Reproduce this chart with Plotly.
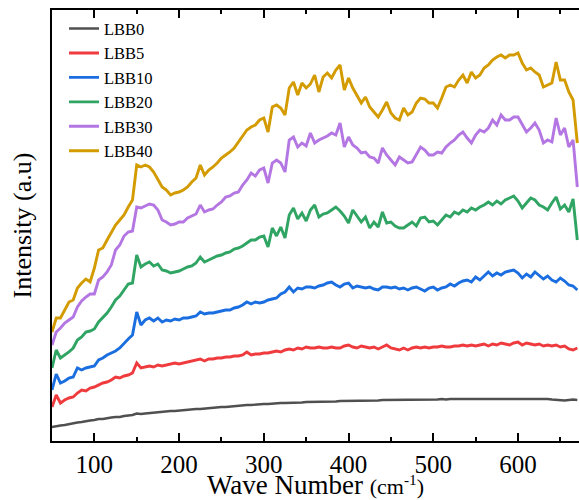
import plotly.graph_objects as go

wave_number = [
    50, 55, 60, 65, 70, 75, 80, 85, 90, 95,
    100, 105, 110, 115, 120, 125, 130, 135, 140, 145,
    150, 155, 160, 165, 170, 175, 180, 185, 190, 195,
    200, 205, 210, 215, 220, 225, 230, 235, 240, 245,
    250, 255, 260, 265, 270, 275, 280, 285, 290, 295,
    300, 305, 310, 315, 320, 325, 330, 335, 340, 345,
    350, 355, 360, 365, 370, 375, 380, 385, 390, 395,
    400, 405, 410, 415, 420, 425, 430, 435, 440, 445,
    450, 455, 460, 465, 470, 475, 480, 485, 490, 495,
    500, 505, 510, 515, 520, 525, 530, 535, 540, 545,
    550, 555, 560, 565, 570, 575, 580, 585, 590, 595,
    600, 605, 610, 615, 620, 625, 630, 635, 640, 645,
    650, 655, 660, 665, 670,
]

lbb0 = [
    14, 15, 15.5, 16, 17, 17.5, 18.5, 19, 20, 20.5,
    21, 22, 22, 23, 23.5, 24, 24, 25, 25.5, 26,
    27.5, 27, 27.5, 28, 28.5, 29, 29, 29.5, 30, 30,
    30.5, 31, 31, 31.5, 32, 32, 32.5, 33, 33, 33.5,
    34, 34, 34.5, 35, 35, 35.5, 36, 36, 36.5, 36.5,
    37, 37, 37.5, 37.5, 38, 38, 38, 38.5, 38.5, 38.5,
    39, 39, 39, 39, 39.5, 39.5, 39.5, 39.5, 40, 40,
    40, 40, 40.5, 40, 40.5, 40.5, 40.5, 40.5, 41, 41,
    41, 41, 41, 41, 41.5, 41, 41.5, 41.5, 41.5, 41.5,
    41.5, 41.5, 42, 41.5, 42, 42, 42, 42, 42, 42,
    42, 42.5, 42, 42.5, 42.5, 42, 42.5, 42.5, 42.5, 42.5,
    42.5, 42, 42.5, 42, 42, 42.5, 42, 42, 41.5, 41,
    40.5, 40.5, 41, 41.5, 41,
]

lbb5 = [
    34, 46, 38, 41, 43, 44, 48, 51, 50, 53,
    54, 56, 58, 59, 61, 64, 63, 65, 66, 68,
    78, 73, 74, 75, 74, 76, 75, 76, 77, 78,
    77, 78, 79, 80, 81, 82, 80, 82, 82, 83,
    83, 84, 84, 85, 85, 86, 89, 86, 87, 87,
    88, 88, 89, 90, 89, 91, 92, 91, 93, 92,
    94, 93, 93, 94, 93, 93, 94, 93, 93, 95,
    96, 94, 93, 95, 94, 93, 94, 92, 94, 96,
    93, 92, 91, 93, 91, 93, 94, 93, 94, 93,
    94, 94, 95, 94, 94, 95, 95, 96, 95, 96,
    95, 96, 97, 95, 97, 96, 98, 97, 96, 98,
    99, 96, 98, 97, 96, 97, 95, 96, 95, 96,
    94, 95, 92, 91, 93,
]

lbb10 = [
    51, 67, 58, 60, 63, 64, 73, 71, 73, 74,
    75, 81, 83, 86, 88, 90, 93, 98, 102, 106,
    129, 116, 121, 123, 120, 123, 119, 121, 120, 122,
    121, 123, 123, 124, 125, 129, 127, 128, 128, 129,
    130, 131, 131, 133, 134, 136, 139, 137, 139, 138,
    139, 141, 142, 143, 147, 149, 154, 149, 153, 152,
    154, 154, 153, 155, 156, 158, 159, 156, 154, 157,
    158, 153, 155, 154, 153, 154, 152, 151, 154, 154,
    153, 154, 152, 153, 151, 153, 154, 152, 150, 153,
    154, 151, 153, 154, 157, 155, 158, 160, 161, 159,
    164, 161, 165, 169, 165, 168, 166, 169, 170, 171,
    168, 163, 167, 164, 169, 165, 162, 165, 161, 159,
    163, 160, 156, 155, 151,
]

lbb20 = [
    73, 91, 83, 86, 89, 93, 101, 104, 109, 110,
    112, 119, 123, 128, 134, 141, 145, 151, 157, 158,
    186, 174, 177, 179, 175, 177, 171, 170, 168, 169,
    170, 172, 174, 175, 178, 184, 179, 181, 183, 185,
    186, 188, 189, 192, 193, 195, 198, 201, 201, 204,
    205, 194, 213, 205, 214, 203, 226, 233, 222, 228,
    220, 231, 236, 224, 227, 228, 231, 234, 230, 225,
    218, 231, 225, 219, 224, 213, 219, 214, 229, 218,
    219, 215, 213, 213, 216, 219, 215, 223, 224, 219,
    220, 216, 221, 226, 224, 229, 227, 231, 229, 233,
    231, 234, 236, 239, 236, 240, 237, 241, 243, 245,
    240, 233, 238, 243, 241, 236, 234, 231, 238, 244,
    232, 236, 229, 242, 201,
]

lbb30 = [
    96, 109, 113, 118, 121, 124, 134, 140, 144, 147,
    147, 161, 164, 169, 176, 191, 196, 205, 209, 210,
    234, 233, 235, 237, 236, 231, 221, 219, 216, 217,
    219, 219, 223, 225, 227, 236, 229, 231, 232, 236,
    239, 244, 245, 248, 249, 256, 261, 268, 265, 271,
    273, 258, 278, 281, 278, 269, 301, 304, 294, 298,
    295, 308, 298, 301, 303, 305, 308, 306, 318, 294,
    304, 296, 293, 288, 289, 284, 283, 278, 293, 286,
    281, 276, 284, 281, 278, 279, 286, 294, 291, 286,
    286, 289, 288, 294, 298, 301, 306, 309, 303, 298,
    306, 311, 309, 313, 321, 316, 326, 321, 321, 324,
    324, 316, 309, 313, 318, 311, 298, 301, 299, 323,
    306, 313, 294, 301, 254,
]

lbb40 = [
    109, 123, 123, 131, 139, 141, 153, 158, 162, 159,
    173, 191, 193, 201, 208, 216, 221, 226, 234, 241,
    276, 274, 276, 274, 269, 261, 254, 251, 246, 248,
    249, 251, 254, 259, 263, 276, 266, 271, 274, 278,
    283, 286, 289, 293, 299, 304, 311, 314, 316, 321,
    323, 309, 334, 336, 333, 326, 353, 359, 346, 358,
    353, 357, 366, 349, 364, 368, 363, 371, 376, 351,
    363, 353, 346, 338, 344, 334, 329, 324, 331, 339,
    328, 323, 321, 333, 326, 329, 338, 343, 342, 338,
    338, 333, 343, 354, 356, 354, 361, 366, 358, 369,
    363, 366, 373, 376, 381, 384, 386, 383, 386, 386,
    388, 378, 371, 373, 369, 366, 354, 356, 358, 379,
    361, 361, 349, 341, 298,
]

series_names = ["LBB0", "LBB5", "LBB10", "LBB20", "LBB30", "LBB40"]
series_values = [lbb0, lbb5, lbb10, lbb20, lbb30, lbb40]
series_colors = ["#505050", "#ef3b3e", "#1a6ee0", "#2fa463", "#b476e2", "#d39b00"]
series_widths = [2.4, 2.9, 2.9, 2.9, 2.9, 2.9]

x_ticks = [100, 200, 300, 400, 500, 600]

fig = go.Figure()
for name, vals, col, w in zip(series_names, series_values, series_colors, series_widths):
    fig.add_trace(go.Scatter(
        x=wave_number, y=vals, mode="lines", name=name,
        line=dict(color=col, width=w),
    ))

serif = "Liberation Serif, Times New Roman, serif"

fig.update_layout(
    width=579, height=500,
    margin=dict(l=52, r=0, t=10, b=59, autoexpand=False),
    paper_bgcolor="white", plot_bgcolor="white",
    font=dict(family=serif, color="black"),
    showlegend=True,
    legend=dict(
        x=0.0228, y=0.997, xanchor="left", yanchor="top",
        bgcolor="rgba(0,0,0,0)", borderwidth=0,
        font=dict(family=serif, size=16.5, color="black"),
        tracegroupgap=0, itemwidth=30,
    ),
    xaxis=dict(
        range=[50, 672],
        automargin=False,
        tickvals=x_ticks,
        ticktext=[str(v) for v in x_ticks],
        ticks="inside", ticklen=8, tickwidth=1.5, tickcolor="black",
        minor=dict(ticks="inside", ticklen=4, tickwidth=1.5, tickcolor="black", dtick=50, tick0=50),
        showline=True, linewidth=2, linecolor="black", mirror="allticks",
        showgrid=False, zeroline=False,
        ticklabelstandoff=0,
        tickfont=dict(family=serif, size=25, color="black"),
        title=dict(
            text="Wave Number <span style='font-size:22px'>(cm<sup>-1</sup>)</span>",
            font=dict(family=serif, size=27, color="black"),
            standoff=8,
        ),
    ),
    yaxis=dict(
        range=[0, 431],
        automargin=False,
        showticklabels=False, ticks="",
        showline=True, linewidth=2, linecolor="black", mirror=False,
        showgrid=False, zeroline=False,
        title=dict(
            text="Intensity (a.u)",
            font=dict(family=serif, size=26, color="black"),
            standoff=11,
        ),
    ),
)

fig.write_html(
    "out.html",
    config={"displayModeBar": False},
    post_script="document.body.style.margin='0';document.body.style.overflow='hidden';",
)
